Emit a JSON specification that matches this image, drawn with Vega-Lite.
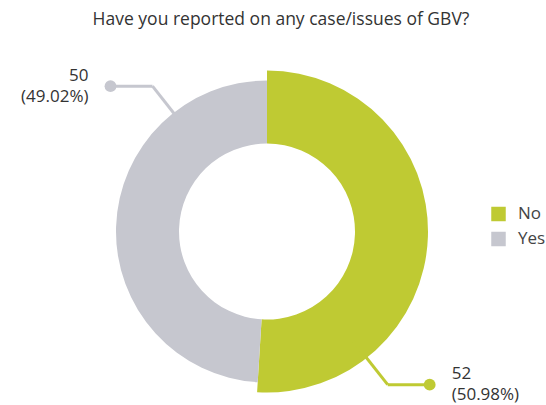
{
  "$schema": "https://vega.github.io/schema/vega-lite/v6.json",
  "width": 400,
  "height": 340,
  "autosize": {"type": "none"},
  "padding": {"left": 67, "top": 61.5, "right": 79, "bottom": 3.5},
  "background": "white",
  "config": {"view": {"stroke": null}, "font": "Open Sans"},
  "title": {
    "text": "Have you reported on any case/issues of GBV?",
    "fontSize": 17.5,
    "fontWeight": "normal",
    "color": "#333333",
    "font": "Open Sans",
    "anchor": "middle",
    "dx": 14,
    "offset": 33
  },
  "data": {
    "values": [
      {"answer": "No", "count": 52},
      {"answer": "Yes", "count": 50}
    ]
  },
  "transform": [
    {"joinaggregate": [{"op": "sum", "field": "count", "as": "total"}]},
    {"window": [{"op": "sum", "field": "count", "as": "cum"}], "sort": [{"field": "answer"}], "frame": [null, 0]},
    {"calculate": "2*PI*(datum.cum - datum.count/2)/datum.total + 50*PI/180", "as": "ang"},
    {"calculate": "151 + (datum.count - 50)*5", "as": "rout"},
    {"calculate": "sin(datum.ang) >= 0 ? 1 : -1", "as": "side"},
    {"calculate": "140*sin(datum.ang)", "as": "x0"},
    {"calculate": "140*cos(datum.ang)", "as": "y0"},
    {"calculate": "(datum.rout + 34)*sin(datum.ang)", "as": "x1"},
    {"calculate": "(datum.rout + 34)*cos(datum.ang)", "as": "y1"},
    {"calculate": "datum.x1 + datum.side*42", "as": "x2"},
    {"calculate": "[toString(datum.count), '(' + format(datum.count/datum.total, '.2%') + ')']", "as": "label"}
  ],
  "layer": [
    {
      "mark": {"type": "arc", "innerRadius": 88, "stroke": null},
      "encoding": {
        "theta": {"field": "count", "type": "quantitative", "stack": true},
        "radius": {"field": "count", "type": "quantitative", "scale": {"type": "linear", "domain": [50, 52], "range": [151, 161], "zero": false}},
        "color": {
          "field": "answer",
          "type": "nominal",
          "scale": {"domain": ["No", "Yes"], "range": ["#bfca33", "#c6c7cf"]},
          "legend": {
            "title": null,
            "orient": "none",
            "legendX": 423,
            "legendY": 144,
            "padding": 0,
            "symbolType": "square",
            "symbolSize": 210,
            "symbolStrokeWidth": 0,
            "labelFontSize": 17,
            "labelFont": "Open Sans",
            "labelColor": "#444444",
            "labelOffset": 11,
            "rowPadding": 7
          }
        },
        "order": {"field": "answer"}
      }
    },
    {
      "mark": {"type": "rule", "strokeWidth": 3},
      "encoding": {
        "x": {"field": "x0", "type": "quantitative", "scale": {"domain": [-200, 200], "nice": false, "zero": false}, "axis": null},
        "y": {"field": "y0", "type": "quantitative", "scale": {"domain": [-170, 170], "nice": false, "zero": false}, "axis": null},
        "x2": {"field": "x1"},
        "y2": {"field": "y1"},
        "color": {"field": "answer", "type": "nominal", "legend": null}
      }
    },
    {
      "mark": {"type": "rule", "strokeWidth": 3},
      "encoding": {
        "x": {"field": "x1", "type": "quantitative"},
        "y": {"field": "y1", "type": "quantitative"},
        "x2": {"field": "x2"},
        "y2": {"field": "y1"},
        "color": {"field": "answer", "type": "nominal", "legend": null}
      }
    },
    {
      "mark": {"type": "point", "filled": true, "opacity": 1, "size": 140},
      "encoding": {
        "x": {"field": "x2", "type": "quantitative"},
        "y": {"field": "y1", "type": "quantitative"},
        "color": {"field": "answer", "type": "nominal", "legend": null}
      }
    },
    {
      "mark": {
        "type": "text",
        "fontSize": 17,
        "font": "Open Sans",
        "color": "#333333",
        "baseline": "middle",
        "lineHeight": 21,
        "dy": -10.5,
        "align": {"expr": "datum.side > 0 ? 'left' : 'right'"},
        "dx": {"expr": "datum.side * 22"}
      },
      "encoding": {
        "x": {"field": "x2", "type": "quantitative"},
        "y": {"field": "y1", "type": "quantitative"},
        "text": {"field": "label"}
      }
    }
  ]
}
